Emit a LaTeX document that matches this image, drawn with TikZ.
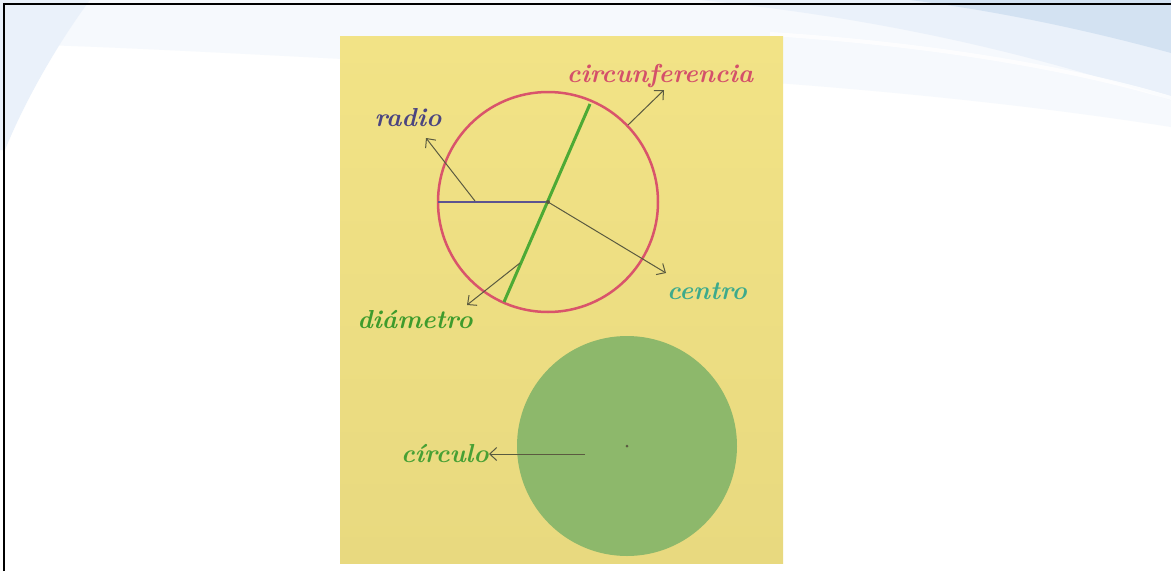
\documentclass[tikz,border=0pt]{standalone}
\usetikzlibrary{arrows.meta}
\definecolor{yelA}{HTML}{F2E386}
\definecolor{yelB}{HTML}{E8D97F}
\definecolor{redC}{HTML}{D9546B}
\definecolor{greenL}{HTML}{4DAA35}
\definecolor{blueR}{HTML}{5C5490}
\definecolor{txtRadio}{HTML}{4B4580}
\definecolor{txtCirc}{HTML}{D4506A}
\definecolor{txtCentro}{HTML}{3DAA8C}
\definecolor{txtDiam}{HTML}{3E9B2C}
\definecolor{txtCirculo}{HTML}{47A034}
\definecolor{disk}{HTML}{8DB86B}
\definecolor{arrowC}{HTML}{5A5A40}
\definecolor{swA}{HTML}{F6F9FD}
\definecolor{swB}{HTML}{EAF1FA}
\definecolor{swC}{HTML}{D3E2F2}
\tikzset{
  lbl/.style={inner sep=0pt, font=\fontsize{26}{28}\selectfont\bfseries\itshape},
  ptr/.style={draw=arrowC, line width=1pt, -{Straight Barb[length=7pt,width=13pt,line width=1pt]}},
}
\begin{document}
\begin{tikzpicture}[x=1pt,y=-1pt]
\useasboundingbox (0,0) rectangle (1171,571);
\fill[white] (0,0) rectangle (1171,571);
% background swooshes
\fill[swA] (0,0) -- (1171,0) -- (1171,127) .. controls (1000,100) and (800,82) .. (600,72)
  .. controls (350,60) and (150,48) .. (40,45) -- (0,60) -- cycle;
\fill[swB] (0,0) -- (90,0) .. controls (60,40) and (25,100) .. (5,150) -- (0,150) -- cycle;
\fill[swB] (700,0) -- (1171,0) -- (1171,100) .. controls (1050,60) and (900,20) .. (700,0) -- cycle;
\fill[swC] (910,0) -- (1171,0) -- (1171,53) .. controls (1080,28) and (990,10) .. (910,0) -- cycle;
\fill[white, opacity=0.8] (770,32) .. controls (900,40) and (1050,60) .. (1171,96) -- (1171,100) .. controls (1050,64) and (900,44) .. (770,36) -- cycle;
% frame
\draw[line width=2pt] (4,571) -- (4,4) -- (1171,4);
% photo
\shade[top color=yelA, bottom color=yelB] (340,36) rectangle (783,563);
% circumference
\node[circle, draw=redC, line width=2.5pt, minimum size=220pt, inner sep=0pt] (circ) at (548,202) {};
\coordinate (cen) at (548,202);
\coordinate (left) at (438,202);
\coordinate (dtop) at (590,104);
\coordinate (dbot) at (504,302);
\draw[blueR, line width=2.5pt] (left) -- (cen);
\draw[greenL, line width=3pt] (dtop) -- (dbot);
\fill[arrowC] (cen) circle[radius=2];
% arrows and labels
\coordinate (rs) at (475,201);
\coordinate (re) at (426,138);
\draw[ptr] (rs) -- (re);
\node[lbl, text=txtRadio] (radio) at (408,118) {radio};
\coordinate (cs) at (628,125);
\coordinate (ce) at (664,90);
\draw[ptr] (cs) -- (ce);
\node[lbl, text=txtCirc] (circunf) at (660,76) {circunferencia};
\coordinate (ke) at (666,273);
\draw[ptr] (cen) -- (ke);
\node[lbl, text=txtCentro] (centro) at (707,291) {centro};
\coordinate (ds) at (520,263);
\coordinate (de) at (467,305);
\draw[ptr] (ds) -- (de);
\node[lbl, text=txtDiam] (diam) at (415,320) {diámetro};
% disk
\node[circle, fill=disk, minimum size=220pt, inner sep=0pt] (disk) at (627,446) {};
\fill[arrowC] (disk.center) circle[radius=1.5];
\coordinate (ks) at (585,454);
\node[lbl, text=txtCirculo, anchor=east] (circulo) at (489,454) {círculo};
\draw[ptr] (ks) -- (circulo.east);
\end{tikzpicture}
\end{document}
